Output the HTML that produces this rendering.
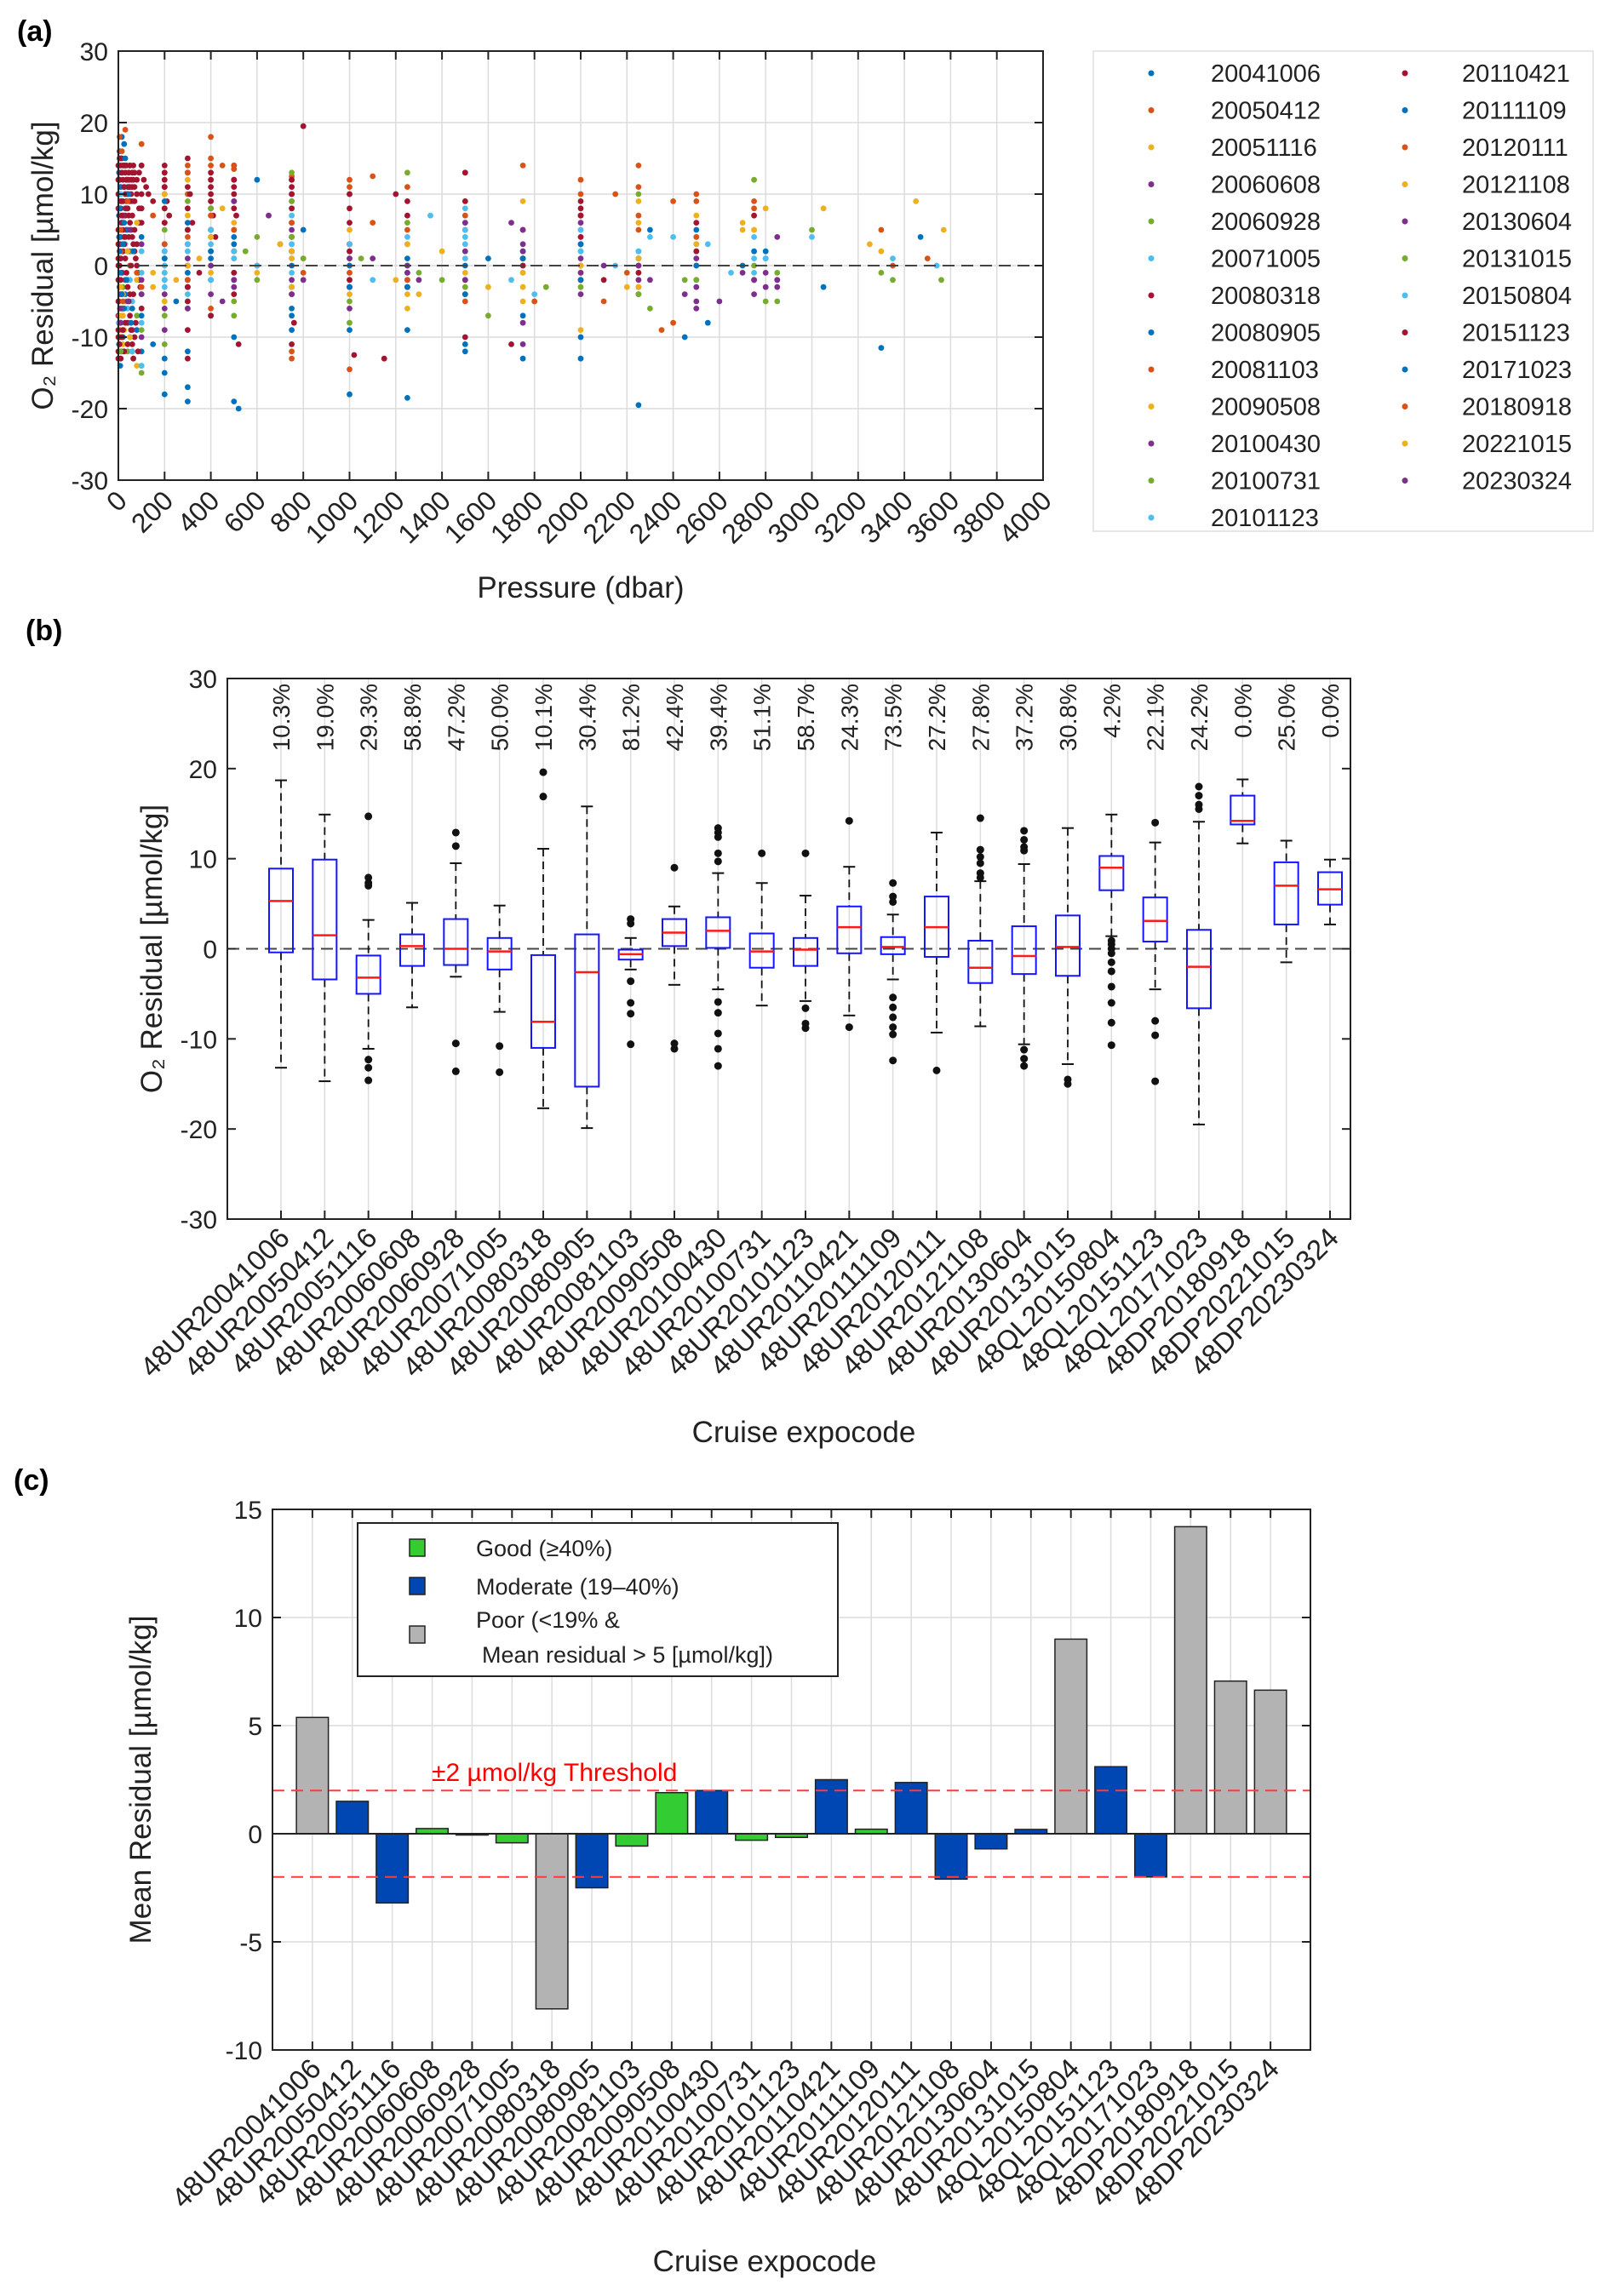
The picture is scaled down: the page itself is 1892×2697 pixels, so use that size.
<!DOCTYPE html>
<html><head><meta charset="utf-8"><style>
html,body{margin:0;padding:0;background:#fff;}
svg{display:block;font-family:"Liberation Sans",sans-serif;}
</style></head><body>
<svg id="fig" width="1892" height="2697" viewBox="0 0 1892 2697" xmlns="http://www.w3.org/2000/svg">
<g id="pa"></g>
<g id="pb"></g>
<g id="pc"></g>
</svg>
<script>
// ---------- DATA ----------
const cruiseDates = ["20041006","20050412","20051116","20060608","20060928","20071005","20080318","20080905","20081103","20090508","20100430","20100731","20101123","20110421","20111109","20120111","20121108","20130604","20131015","20150804","20151123","20171023","20180918","20221015","20230324"];
const expocodes = ["48UR20041006","48UR20050412","48UR20051116","48UR20060608","48UR20060928","48UR20071005","48UR20080318","48UR20080905","48UR20081103","48UR20090508","48UR20100430","48UR20100731","48UR20101123","48UR20110421","48UR20111109","48UR20120111","48UR20121108","48UR20130604","48UR20131015","48QL20150804","48QL20151123","48QL20171023","48DP20180918","48DP20221015","48DP20230324"];
// scatter: "pressure:residual" pairs per cruise
const scatterData = [
"5:12,10:15,20:-4,30:8,50:2,80:-9,100:14,150:-11,200:-18,300:-19,400:5,500:-19,520:-20,750:2,1000:-18,1250:-18.5,1500:-12,1750:-13,2000:-13,5:16,15:18,25:17,8:-14,12:6,18:-7,3:10,3:7,3:4,3:1,3:-2,3:-5,3:-8,3:-11,40:11,40:-2,60:9,60:-12,100:4,100:-4,200:2,300:-3,400:-2,500:3",
"5:18,15:16,30:19,60:12,100:17,200:8,300:10,400:18,500:14,600:0,750:12,800:-1,1000:11,1100:12.5,1250:11,1500:13,1750:14,2000:12,2200:-1,2250:14,2400:-8,2500:9,200:13,300:14,400:15,500:13.5,750:12.5,1000:10",
"5:-5,10:-8,20:-7,40:-3,60:-12,80:-14,100:-6,150:-3,200:-1,250:-2,300:7,350:1,400:-1,450:8,600:-1,800:1,1000:3,1200:-2,1300:-4,1400:2,1500:9,1600:-3,1750:9,1800:-5,2000:-2,2200:-3,2250:9,2700:5,2800:8,3050:8,3300:2,3450:9,3570:5,5:-10,15:-12,25:-9,5:-6,10:-4,20:-11",
"10:4,30:-2,60:-9,100:-10,200:-9,300:-3,400:4,450:-5,500:2,650:7,700:3,750:10,800:-2,1000:-3,1100:1,1250:-1,1300:-2,1500:2,1700:6,1750:-11,2000:-2,2100:0,2250:-3,2300:-2,2450:-4,2500:-3,2600:-5,2700:-1,2800:-3,2850:4,1750:3,1750:5,2000:3,2000:1",
"10:-13,40:-12,80:-7,100:-14,200:-11,300:0,400:12,500:1,550:2,600:-2,750:13,800:1,1000:3,1050:1,1250:13,1300:-1,1400:-2,1500:-2,1600:-7,1750:1,1850:-3,2000:-1,2250:10,2300:-6,2450:-2,2500:0,2750:12,2800:-5,2850:-5,3000:5,3300:-1,3350:-2,3560:-2,750:8,1000:-5,1250:6",
"10:1,20:-1,40:-6,60:-12,100:-14,200:0,300:2,400:3,500:-2,600:0,750:-1,1000:2,1100:-2,1250:0,1350:7,1500:6,1700:-2,1800:-4,2000:5,2150:0,2250:2,2300:4,2400:4,2500:4,2550:3,2650:-1,2750:-1,3000:4,3350:1,3540:0,200:-1,300:-2,750:1,750:3,1500:4,2000:3,200:2,200:-3,300:-5,1500:8,2000:4,2000:2",
"0:0,5:15,10:14,15:13,20:12,25:11,30:10,35:9,40:8,45:7,50:6,55:5,60:4,65:3,70:2,75:1,80:0,85:-1,90:-2,95:-3,100:14,110:12,120:11,130:10,150:9,200:14,210:9,220:7,300:15,310:10,320:6,350:-1,400:11,410:7,420:4,500:10,510:7,520:-11,800:19.5,750:10,760:-8,1000:8,1020:-12.5,1150:-13,1200:10,1250:9,1500:13,1700:-11,2000:9,2100:-2,0:10,0:5,0:-5,0:-10,10:8,20:6,30:4,40:2,50:11,60:13,70:9,200:12,200:10,200:6,300:13,300:11,300:8,300:5,300:3,300:0,300:-3,300:-6,300:-9,300:-13,400:13,400:9,500:14,500:12,500:8,500:5,500:2,500:-1,500:-4,750:12,750:8,750:6,750:4,750:-4,750:-11,1000:10,1000:6,1000:3,0:14,0:12,0:8,0:3,0:1,0:-2,0:-7,0:-12,5:12,5:10,5:7,5:4,5:0,5:-3,5:-8,10:11,10:5,10:1,10:-4,10:-9,15:15,15:9,15:6,15:-1,20:14,20:9,20:2,20:-6,25:14,25:7,25:4,30:13,30:7,35:14,35:12,35:5,40:12,40:10,40:-8,45:13,45:11,50:14,50:9,55:12,55:10,60:11,65:14,65:12,70:13,70:11,80:10,80:12,90:13,90:8,100:8,200:13,200:11,200:8,400:12,400:10,400:8,500:11,500:9,750:11,750:9,2000:8,2000:7",
"5:-3,20:-10,40:5,60:-6,100:-12,200:-13,300:-12,400:-7,500:-2,750:-6,1000:-9,1250:-9,1500:-11,1750:-7,2000:-10,2250:-19.5,200:-15,300:-17,10:-8,3:13,8:3,12:-12,25:-6,750:-7,750:-9",
"10:2,50:0,200:-2,300:4,400:-6,500:5,750:-13,1000:-14.5,1500:-5,1750:5,2100:-5,2250:5,2350:-9",
"10:-9,30:-5,80:-2,200:-5,300:0,400:7,500:2,750:1,1000:-4,1250:-6,1500:-4,1750:-5,2000:-9,2250:6,2500:-2,2750:5,5:-7,15:-6,2250:-2",
"20:7,50:5,100:-2,200:3,300:-2,400:-4,500:-2,750:5,1000:-6,1250:-2,1500:5,1750:-8,2000:6,2250:-2,2500:-6,2800:-1,2850:-2",
"20:-3,60:2,100:-9,200:5,400:8,500:-5,600:4,750:9,1000:-8,1250:3,1500:-4,1750:0,2000:0,2250:-1,2500:-2",
"10:7,30:3,60:-5,100:2,200:-2,300:-1,400:5,500:2,750:7,1000:-2,1250:-3,1500:1,1750:-1,2000:3,2250:2,2500:3,2750:1,100:-1,200:1,300:-4,400:-2",
"5:12,10:9,15:7,20:5,25:3,30:1,35:-1,40:-3,45:-5,50:-7,55:-9,60:-11,65:-13,70:-10,100:10,200:11,300:5,400:9,500:12,750:4,1000:2,1250:-3,1500:9,1750:0,2000:7,2250:-1,2500:6,2750:7,5:3,10:-2,15:-6,20:-9,25:-12,30:14,35:12,40:10,45:12,50:14,0:-13,0:-9,5:-11,10:-13,15:-10,30:-8,40:-11,50:-4,60:7,70:5,80:3,90:6,100:-6,100:6",
"5:8,10:-1,20:3,30:-4,50:-10,100:-7,200:9,250:-5,300:6,400:1,500:-10,600:12,750:-3,800:5,1000:0,1250:-3,1500:0,1600:1,1750:2,2000:-2,2250:1,2300:5,2450:-10,2500:5,2550:-8,2700:0,2800:1,3050:-3,3300:-11.5,3470:4,5:2,10:11,20:-6,30:15",
"20:-5,100:-3,150:7,300:13,400:14,450:14,750:-12,1000:12,1100:6,1250:5,1500:-2,1800:-5,2150:10,2250:11,2400:9,2500:10,2750:9,3300:5,3500:1",
"5:-8,50:-10,150:-1,200:-5,400:0,500:-1,700:3,750:-3,1000:-1,1250:-4,1500:-2,1750:-3,2000:0,2250:-3,2500:7,2700:6,2750:5,3250:3,10:-6,20:-4",
"10:-6,100:-4,200:-4,300:-6,400:5,500:9,750:-4,1000:-3,1250:-1,1500:6,1750:5,2000:-4,2250:-4,2500:-5,2750:-4,2850:-3",
"10:-12,100:-15,200:-7,300:9,400:5,500:-7,750:4,1000:1,1250:0,1500:-3,1750:1,2000:-3,2250:-4,2500:-2,2750:0,2850:-1",
"10:10,50:-2,100:-8,200:-2,300:3,400:5,500:1,750:6,1000:3,1250:4,1500:3,1750:2,2000:5,2250:1,2500:2,2750:4,2800:1,200:1,400:2,750:3,1500:5,2000:2",
"5:-10,15:13,25:11,35:8,45:4,55:0,65:-4,75:-8,85:-12,200:6,300:-5,400:-7,500:-1,750:2,1000:-2,1250:7,1500:-10,1750:1,2000:4,2250:0,2500:2,2750:-2",
"5:4,15:-4,25:6,35:-2,45:10,55:-8,65:2,200:1,300:-1,400:2,500:4,750:0,1000:-3,1250:1,1500:-4,1750:1,2000:3,2250:1,2500:0,2750:2,2800:2",
"10:5,40:9,80:-1,200:3,300:-2,400:7,500:14,750:6,1000:-1,1250:-2,1500:7,2000:10,2250:7,2500:4,2750:8,3350:0",
"10:-3,40:2,80:6,200:10,300:12,400:4,500:6,750:2,1000:5,1250:3,1500:-1,1750:-1,2000:-1,2250:1,2500:3",
"10:-8,40:-5,100:3,200:-6,300:1,400:0,500:-3,750:-2,1000:1,1250:0,1500:-2,1750:2,2000:-1,2250:0,2500:1,2750:-2,2850:-2"
];
// box stats
const boxMedian = [5.3,1.5,-3.2,0.3,0,-0.3,-8.1,-2.6,-0.6,1.8,2.0,-0.3,-0.1,2.4,0.2,2.4,-2.1,-0.8,0.2,9.0,3.1,-2.0,14.2,7.0,6.6];
const boxQ1 = [-0.4,-3.4,-5.0,-1.9,-1.8,-2.3,-11.0,-15.3,-1.2,0.3,0.1,-2.1,-1.9,-0.5,-0.6,-0.9,-3.8,-2.8,-3.0,6.5,0.8,-6.6,13.8,2.7,4.9];
const boxQ3 = [8.9,9.9,-0.75,1.6,3.3,1.2,-0.7,1.6,-0.1,3.3,3.5,1.7,1.2,4.7,1.3,5.8,0.9,2.5,3.7,10.3,5.7,2.1,17.0,9.6,8.5];
const whiskLo = [-13.2,-14.7,-11.1,-6.5,-3.1,-7.0,-17.7,-19.9,-2.3,-4.0,-4.5,-6.3,-5.8,-7.4,-3.4,-9.3,-8.6,-10.6,-12.8,1.4,-4.5,-19.5,11.7,-1.5,2.7];
const whiskHi = [18.7,14.9,3.2,5.1,9.5,4.8,11.1,15.8,1.2,4.7,8.4,7.3,5.9,9.1,3.8,12.9,7.5,9.4,13.4,14.9,11.8,14.1,18.8,12.0,9.9];
const outliers = [[],[],[14.7,7.9,7.3,7.0,-12.3,-13.2,-14.6],[],[12.9,11.4,-10.5,-13.6],[-10.8,-13.7],[19.6,16.9],[],[3.3,2.8,-3.6,-6.0,-7.2,-10.6],[9.0,-10.5,-11.1],[13.4,12.9,12.4,10.6,9.7,-5.9,-7.1,-9.4,-11.1,-13.0],[10.6],[10.6,-6.6,-8.3,-8.8],[14.2,-8.7],[7.3,5.8,5.2,-5.4,-6.5,-7.6,-8.7,-9.5,-12.4],[-13.5],[14.5,11.0,10.2,9.5,8.4,7.9],[13.1,12.1,11.3,10.9,-11.2,-12.2,-13.0],[-14.5,-15.0],[0.9,0.5,0,-0.5,-1.5,-2.5,-4.2,-6.0,-8.2,-10.7],[14.0,-8.0,-9.6,-14.7],[18.0,17.0,16.0,15.5],[],[],[]];
const percentLabels = ["10.3%","19.0%","29.3%","58.8%","47.2%","50.0%","10.1%","30.4%","81.2%","42.4%","39.4%","51.1%","58.7%","24.3%","73.5%","27.2%","27.8%","37.2%","30.8%","4.2%","22.1%","24.2%","0.0%","25.0%","0.0%"];
// bars
const meanResidual = [5.38,1.5,-3.2,0.24,-0.06,-0.42,-8.1,-2.5,-0.57,1.9,2.0,-0.3,-0.17,2.5,0.21,2.37,-2.1,-0.7,0.2,9.0,3.1,-2.0,14.2,7.06,6.64];
const quality = ["poor","moderate","moderate","good","good","good","poor","moderate","good","good","moderate","good","good","moderate","good","moderate","moderate","moderate","moderate","poor","moderate","moderate","poor","poor","poor"];
const aTicksX = [0,200,400,600,800,1000,1200,1400,1600,1800,2000,2200,2400,2600,2800,3000,3200,3400,3600,3800,4000];
const bTicksY = [-30,-20,-10,0,10,20,30];
const cTicksY = [-10,-5,0,5,10,15];

// ---------- HELPERS ----------
const NS="http://www.w3.org/2000/svg";
function mk(parent,tag,attrs,text){const e=document.createElementNS(NS,tag);for(const k in attrs)e.setAttribute(k,attrs[k]);if(text!==undefined)e.textContent=text;parent.appendChild(e);return e;}
const colors=["#0072BD","#D95319","#EDB120","#7E2F8E","#77AC30","#4DBEEE","#A2142F"];

// ---------- PANEL A ----------
const pa=document.getElementById('pa');
const aL=139,aR=1225,aT=60,aB=564;
const ax=p=>aL+(p/4000)*(aR-aL);
const ay=v=>aT+(30-v)/60*(aB-aT);
let t=mk(pa,'text',{x:20,y:48,'font-size':34,'font-weight':'bold'},'(a)');

mk(pa,'rect',{x:aL,y:aT,width:aR-aL,height:aB-aT,fill:'#fff'});
aTicksX.forEach(p=>{let g=mk(pa,'line',{x1:ax(p),x2:ax(p),y1:aT,y2:aB,stroke:'#dcdcdc','stroke-width':1.5});});
bTicksY.forEach(v=>{let g=mk(pa,'line',{x1:aL,x2:aR,y1:ay(v),y2:ay(v),stroke:'#dcdcdc','stroke-width':1.5});});
scatterData.forEach((s,i)=>{
  const grp=mk(pa,'g',{fill:colors[i%7]});
  
  
  s.split(',').forEach(pr=>{const [p,v]=pr.split(':').map(Number);
    const c=mk(grp,'circle',{cx:ax(p).toFixed(1),cy:ay(v).toFixed(1),r:3.4});
    
    
  });
});
mk(pa,'line',{x1:aL,x2:aR,y1:ay(0),y2:ay(0),stroke:'#444','stroke-width':2,'stroke-dasharray':'14,8'});
mk(pa,'rect',{x:aL,y:aT,width:aR-aL,height:aB-aT,fill:'none',stroke:'#222','stroke-width':2});
aTicksX.forEach(p=>{mk(pa,'line',{x1:ax(p),x2:ax(p),y1:aT,y2:aT+10,stroke:'#222','stroke-width':2});mk(pa,'line',{x1:ax(p),x2:ax(p),y1:aB,y2:aB-10,stroke:'#222','stroke-width':2});
  const l=mk(pa,'text',{x:0,y:0,'font-size':32,'text-anchor':'end',fill:'#222',transform:`translate(${ax(p)+12},${aB+26}) rotate(-45)`},String(p));
  });
bTicksY.forEach(v=>{mk(pa,'line',{x1:aL,x2:aL+10,y1:ay(v),y2:ay(v),stroke:'#222','stroke-width':2});mk(pa,'line',{x1:aR,x2:aR-10,y1:ay(v),y2:ay(v),stroke:'#222','stroke-width':2});
  const l=mk(pa,'text',{x:aL-12,y:ay(v)+11,'font-size':30,'text-anchor':'end',fill:'#222'},String(v));
  });
t=mk(pa,'text',{x:(aL+aR)/2,y:702,'font-size':35,'text-anchor':'middle',fill:'#222'},'Pressure (dbar)');

t=mk(pa,'text',{x:0,y:0,'font-size':35,'text-anchor':'middle',fill:'#222',transform:`translate(62,${(aT+aB)/2}) rotate(-90)`},'O₂ Residual [µmol/kg]');

// legend
const lg=mk(pa,'g',{});

mk(lg,'rect',{x:1284,y:60,width:587,height:564,fill:'#fff',stroke:'#e6e6e6','stroke-width':2});
cruiseDates.forEach((d,i)=>{const col=i<13?0:1,row=i<13?i:i-13;const y=86+row*43.5;
  const mx=col?1650:1352,tx=col?1717:1422;
  const e=mk(lg,'g',{});
  
  
  mk(e,'circle',{cx:mx,cy:y,r:3.5,fill:colors[i%7]});
  mk(e,'text',{x:tx,y:y+10,'font-size':29,fill:'#222'},d);
});

// ---------- PANEL B ----------
const pb=document.getElementById('pb');
const bL=267,bR=1586,bT=797,bB=1432;
const bx=i=>330+i*(1562-330)/24;
const by=v=>bT+(30-v)/60*(bB-bT);
t=mk(pb,'text',{x:30,y:752,'font-size':34,'font-weight':'bold'},'(b)');

expocodes.forEach((c,i)=>{let g=mk(pb,'line',{x1:bx(i),x2:bx(i),y1:bT,y2:bB,stroke:'#dcdcdc','stroke-width':1.5});});
mk(pb,'line',{x1:bL,x2:bR,y1:by(0),y2:by(0),stroke:'#444','stroke-width':2,'stroke-dasharray':'14,8'});
expocodes.forEach((c,i)=>{
  const g=mk(pb,'g',{});
  
  
  const x=bx(i),w=28;
  mk(g,'line',{x1:x,x2:x,y1:by(whiskHi[i]),y2:by(boxQ3[i]),stroke:'#111','stroke-width':1.8,'stroke-dasharray':'9,6'});
  mk(g,'line',{x1:x,x2:x,y1:by(boxQ1[i]),y2:by(whiskLo[i]),stroke:'#111','stroke-width':1.8,'stroke-dasharray':'9,6'});
  mk(g,'line',{x1:x-7,x2:x+7,y1:by(whiskHi[i]),y2:by(whiskHi[i]),stroke:'#111','stroke-width':2});
  mk(g,'line',{x1:x-7,x2:x+7,y1:by(whiskLo[i]),y2:by(whiskLo[i]),stroke:'#111','stroke-width':2});
  mk(g,'rect',{x:x-w/2,y:by(boxQ3[i]),width:w,height:by(boxQ1[i])-by(boxQ3[i]),fill:'none',stroke:'#1515ff','stroke-width':2});
  mk(g,'line',{x1:x-w/2,x2:x+w/2,y1:by(boxMedian[i]),y2:by(boxMedian[i]),stroke:'#ff1a1a','stroke-width':2.5});
  outliers[i].forEach(v=>{const o=mk(g,'circle',{cx:x,cy:by(v),r:4.5,fill:'#111'});});
  const p=mk(pb,'text',{x:0,y:0,'font-size':28,'text-anchor':'end',fill:'#222',transform:`translate(${x+10},${bT+6}) rotate(-90)`},percentLabels[i]);
  
  const l=mk(pb,'text',{x:0,y:0,'font-size':33,'text-anchor':'end',fill:'#222',transform:`translate(${x+12},${bB+24}) rotate(-45)`},c);
  
  mk(pb,'line',{x1:x,x2:x,y1:bB,y2:bB-10,stroke:'#222','stroke-width':2});
});
mk(pb,'rect',{x:bL,y:bT,width:bR-bL,height:bB-bT,fill:'none',stroke:'#222','stroke-width':2});
bTicksY.forEach(v=>{mk(pb,'line',{x1:bL,x2:bL+10,y1:by(v),y2:by(v),stroke:'#222','stroke-width':2});mk(pb,'line',{x1:bR,x2:bR-10,y1:by(v),y2:by(v),stroke:'#222','stroke-width':2});
  const l=mk(pb,'text',{x:bL-12,y:by(v)+11,'font-size':30,'text-anchor':'end',fill:'#222'},String(v));
  });
t=mk(pb,'text',{x:944,y:1694,'font-size':35,'text-anchor':'middle',fill:'#222'},'Cruise expocode');

t=mk(pb,'text',{x:0,y:0,'font-size':35,'text-anchor':'middle',fill:'#222',transform:`translate(190,${(bT+bB)/2}) rotate(-90)`},'O₂ Residual [µmol/kg]');


// ---------- PANEL C ----------
const pc=document.getElementById('pc');
const cL=320,cR=1539,cT=1773,cB=2408;
const cx=i=>cL+(i+1)*(cR-cL)/26;
const cy=v=>cT+(15-v)/25*(cB-cT);
const qColor={good:"#33CC33",moderate:"#0047B3",poor:"#B3B3B3"};
t=mk(pc,'text',{x:16,y:1750,'font-size':34,'font-weight':'bold'},'(c)');

expocodes.forEach((c,i)=>{let g=mk(pc,'line',{x1:cx(i),x2:cx(i),y1:cT,y2:cB,stroke:'#dcdcdc','stroke-width':1.5});});
cTicksY.forEach(v=>{let g=mk(pc,'line',{x1:cL,x2:cR,y1:cy(v),y2:cy(v),stroke:'#dcdcdc','stroke-width':1.5});});
expocodes.forEach((c,i)=>{
  const v=meanResidual[i],w=(cR-cL)/26*0.8;
  const y0=Math.min(cy(0),cy(v)),h=Math.abs(cy(v)-cy(0));
  const b=mk(pc,'rect',{x:cx(i)-w/2,y:y0,width:w,height:Math.max(h,1.5),fill:qColor[quality[i]],stroke:'#222','stroke-width':1.5});
  
  const l=mk(pc,'text',{x:0,y:0,'font-size':33,'text-anchor':'end',fill:'#222',transform:`translate(${cx(i)+12},${cB+24}) rotate(-45)`},c);
  
  mk(pc,'line',{x1:cx(i),x2:cx(i),y1:cT,y2:cT+10,stroke:'#222','stroke-width':2});
  mk(pc,'line',{x1:cx(i),x2:cx(i),y1:cB,y2:cB-10,stroke:'#222','stroke-width':2});
});
mk(pc,'line',{x1:cL,x2:cR,y1:cy(0),y2:cy(0),stroke:'#222','stroke-width':2});
[2,-2].forEach(v=>{const l=mk(pc,'line',{x1:cL,x2:cR,y1:cy(v),y2:cy(v),stroke:'#ff3b3b','stroke-width':2,'stroke-dasharray':'14,8'});});
t=mk(pc,'text',{x:507,y:2092,'font-size':30,fill:'#ff0000'},'±2 µmol/kg Threshold');

mk(pc,'rect',{x:cL,y:cT,width:cR-cL,height:cB-cT,fill:'none',stroke:'#222','stroke-width':2});
cTicksY.forEach(v=>{mk(pc,'line',{x1:cL,x2:cL+10,y1:cy(v),y2:cy(v),stroke:'#222','stroke-width':2});mk(pc,'line',{x1:cR,x2:cR-10,y1:cy(v),y2:cy(v),stroke:'#222','stroke-width':2});
  const l=mk(pc,'text',{x:cL-12,y:cy(v)+11,'font-size':30,'text-anchor':'end',fill:'#222'},String(v));
  });
t=mk(pc,'text',{x:898,y:2668,'font-size':35,'text-anchor':'middle',fill:'#222'},'Cruise expocode');

t=mk(pc,'text',{x:0,y:0,'font-size':35,'text-anchor':'middle',fill:'#222',transform:`translate(177,${(cT+cB)/2}) rotate(-90)`},'Mean Residual [µmol/kg]');

const cl=mk(pc,'g',{});

mk(cl,'rect',{x:420,y:1789,width:564,height:180,fill:'#fff',stroke:'#222','stroke-width':2});
[["good","Good (≥40%)",1818],["moderate","Moderate (19–40%)",1863]].forEach(([q,lab,y])=>{
  const e=mk(cl,'g',{});
  
  
  mk(e,'rect',{x:481,y:y-10,width:18,height:20,fill:qColor[q],stroke:'#222','stroke-width':1.5});
  mk(e,'text',{x:559,y:y+10,'font-size':27,fill:'#222'},lab);
});
const ep=mk(cl,'g',{});


mk(ep,'rect',{x:481,y:1910,width:18,height:20,fill:qColor.poor,stroke:'#222','stroke-width':1.5});
mk(ep,'text',{x:559,y:1912,'font-size':27,fill:'#222'},'Poor (<19% &');
mk(ep,'text',{x:566,y:1953,'font-size':27,fill:'#222'},'Mean residual > 5 [µmol/kg])');
</script>
</body></html>
